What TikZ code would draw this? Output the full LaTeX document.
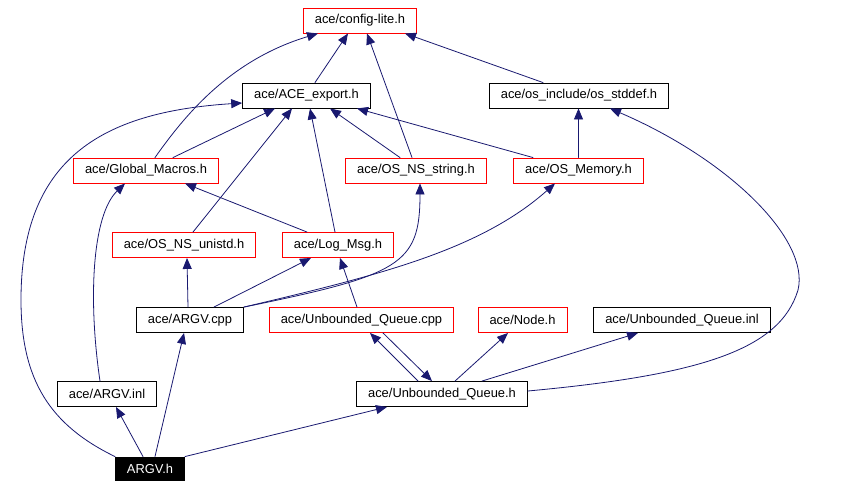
\documentclass[tikz,border=0pt]{standalone}
\usepackage{fontspec}
\setmainfont{Liberation Sans}
\usetikzlibrary{arrows.meta}
\definecolor{edgeblue}{RGB}{25,25,112}
\begin{document}
\begin{tikzpicture}[x=1pt,y=-1pt,line cap=round,
    hdr/.style={draw=black,line width=0.9pt,minimum height=25pt,inner xsep=11.5pt,
      inner ysep=0pt,font=\fontsize{12.9}{15}\selectfont},
    redhdr/.style={hdr,draw=red},
    inc/.style={draw=edgeblue,line width=0.8pt,-{Triangle[length=11pt,width=9pt]}}]
  \useasboundingbox (0,0) rectangle (856,488);
  % header boxes
  \node[redhdr] (cfg)   at (360,20.5)  {ace/config-lite.h};
  \node[hdr]    (acex)  at (306.5,95.5) {ace/ACE\_export.h};
  \node[hdr]    (osdef) at (579,95.5)  {ace/os\_include/os\_stddef.h};
  \node[redhdr] (gmac)  at (146,170.5) {ace/Global\_Macros.h};
  \node[redhdr] (nsstr) at (416,170.5) {ace/OS\_NS\_string.h};
  \node[redhdr] (osmem) at (578.5,170.5) {ace/OS\_Memory.h};
  \node[redhdr] (nsuni) at (184,245)   {ace/OS\_NS\_unistd.h};
  \node[redhdr] (logm)  at (338,245)   {ace/Log\_Msg.h};
  \node[hdr]    (argvc) at (190,320)   {ace/ARGV.cpp};
  \node[redhdr] (uqc)   at (361.5,320) {ace/Unbounded\_Queue.cpp};
  \node[redhdr] (nodeh) at (522.5,320) {ace/Node.h};
  \node[hdr]    (uqi)   at (682,320)   {ace/Unbounded\_Queue.inl};
  \node[hdr]    (argvi) at (107,394)   {ace/ARGV.inl};
  \node[hdr]    (uqh)   at (442,394)   {ace/Unbounded\_Queue.h};
  \node[hdr,fill=black,text=white,minimum height=23pt] (argvh) at (150,468.5) {ARGV.h};
  % includes
  \draw[inc] ([xshift=8.5pt]acex.north) -- ([xshift=-12pt]cfg.south);
  \draw[inc] ([xshift=9pt]gmac.north) .. controls (185,115) and (230,60) .. ([xshift=-42pt]cfg.south);
  \draw[inc] ([xshift=-4pt]nsstr.north) -- ([xshift=7pt]cfg.south);
  \draw[inc] ([xshift=-36pt]osdef.north) -- ([xshift=45pt]cfg.south);
  \draw[inc] (argvh.north west) .. controls (50,425) and (21,380) .. (21,300)
    .. controls (21,160) and (100,112) .. ([yshift=-7.5pt]acex.west);
  \draw[inc] ([xshift=27pt]gmac.north) -- ([xshift=-31.5pt]acex.south);
  \draw[inc] ([xshift=9pt]nsuni.north) -- ([xshift=-14.5pt]acex.south);
  \draw[inc] ([xshift=-3pt]logm.north) -- ([xshift=3.5pt]acex.south);
  \draw[inc] ([xshift=-16pt]nsstr.north) -- ([xshift=23.5pt]acex.south);
  \draw[inc] ([xshift=-45.5pt]osmem.north) -- ([xshift=50.5pt]acex.south);
  \draw[inc] (osmem.north) -- (osmem.north |- osdef.south);
  \draw[inc] ([xshift=-31pt]logm.north) -- ([xshift=39pt]gmac.south);
  \draw[inc] ([xshift=-7pt]argvi.north) .. controls (88,300) and (92,215) .. ([xshift=-21pt]gmac.south);
  \draw[inc] ([xshift=-2pt]argvc.north) -- ([xshift=3pt]nsuni.south);
  \draw[inc] ([xshift=24pt]argvc.north) -- ([xshift=-27pt]logm.south);
  \draw[inc] (argvc.north east) .. controls (400,275) and (420,265) .. ([xshift=4pt]nsstr.south);
  \draw[inc] (argvc.north east) .. controls (380,275) and (480,250) .. ([xshift=-23.5pt]osmem.south);
  \draw[inc] ([xshift=-4.5pt]uqc.north) -- ([xshift=2pt]logm.south);
  \draw[inc] ([xshift=-24pt]uqh.north) -- ([xshift=8.5pt]uqc.south);
  \draw[inc] ([xshift=21.5pt]uqc.south) -- ([xshift=-10pt]uqh.north);
  \draw[inc] ([xshift=13pt]uqh.north) -- ([xshift=-14.5pt]nodeh.south);
  \draw[inc] ([xshift=40pt]uqh.north) -- ([xshift=-44pt]uqi.south);
  \draw[inc] ([yshift=3pt]uqh.east) .. controls (700,375) and (780,350) .. (798,290)
    .. controls (810,240) and (730,160) .. ([xshift=31pt]osdef.south);
  \draw[inc] ([xshift=-7pt]argvh.north) -- ([xshift=9pt]argvi.south);
  \draw[inc] ([xshift=5pt]argvh.north) -- ([xshift=-6pt]argvc.south);
  \draw[inc] (argvh.north east) -- ([xshift=-55pt]uqh.south);
\end{tikzpicture}
\end{document}
